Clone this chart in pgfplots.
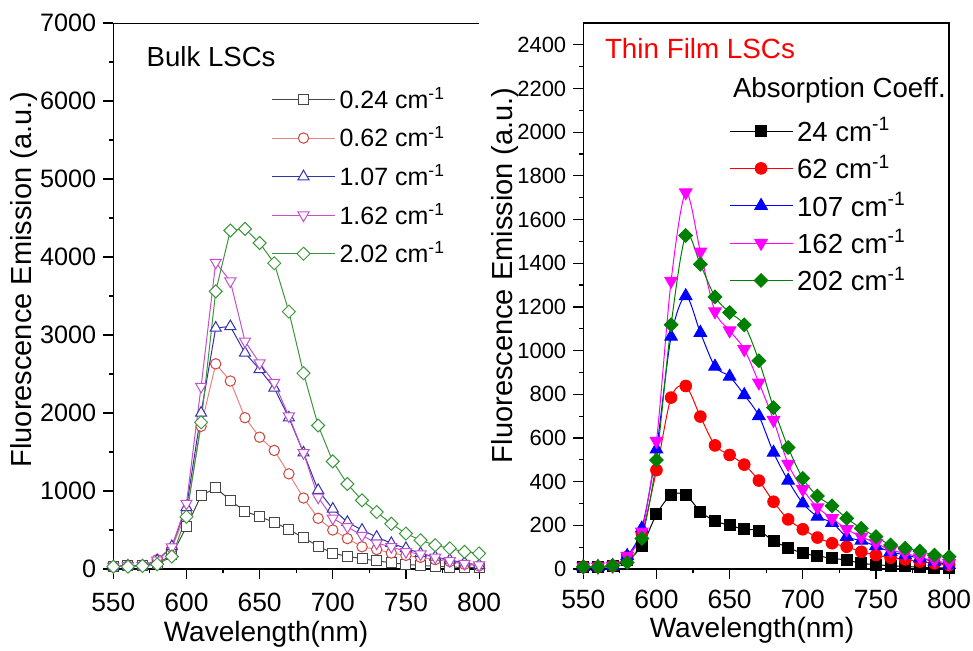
\documentclass[border=0pt]{standalone}
\usepackage{pgfplots}
\pgfplotsset{compat=1.18}
\usepackage{pgfplotstable}
\usepackage{fontspec}
\setmainfont{Liberation Sans}
\setsansfont{Liberation Sans}

\definecolor{lgray}{RGB}{70,70,70}
\definecolor{lred}{RGB}{205,70,60}
\definecolor{lredline}{RGB}{235,130,130}
\definecolor{lblue}{RGB}{50,50,170}
\definecolor{lmag}{RGB}{195,80,205}
\definecolor{lgreen}{RGB}{60,150,60}
\definecolor{rgreen}{RGB}{0,128,0}
\definecolor{rred}{RGB}{255,0,0}
\definecolor{rblue}{RGB}{0,0,255}
\definecolor{rmag}{RGB}{255,0,255}

\pgfplotstableread{
w a b c d e
550 30 30 30 30 30
560 50 40 40 40 30
570 40 40 40 40 40
580 70 120 110 110 60
590 180 270 290 280 160
600 540 720 790 840 670
610 940 1830 2000 2340 1880
620 1040 2630 3090 3930 3560
630 880 2410 3110 3690 4340
640 740 1940 2770 2920 4360
650 670 1690 2560 2640 4180
660 600 1520 2320 2390 3920
670 505 1220 1940 1960 3300
680 400 910 1490 1490 2510
690 295 650 1010 920 1840
700 200 500 770 650 1380
710 165 390 600 540 1090
720 130 285 500 430 880
730 105 250 410 330 730
740 80 205 330 285 580
750 60 175 265 220 455
760 45 150 200 190 370
770 35 120 155 150 305
780 25 95 115 105 265
790 20 60 80 70 220
800 15 40 50 50 200
}\bulk

\pgfplotstableread{
w a b c d e
550 10 10 10 10 10
560 10 10 10 10 10
570 15 15 15 15 15
580 40 55 60 60 30
590 105 163 186 171 140
600 250 453 548 586 499
610 339 785 1064 1319 1118
620 339 838 1250 1724 1527
630 263 698 1082 1453 1395
640 220 566 927 1179 1246
650 200 522 881 1092 1174
660 182 478 797 1006 1118
670 176 405 701 853 954
680 128 308 533 682 739
690 98 227 405 481 556
700 72 182 301 365 415
710 60 144 240 282 334
720 49 118 212 232 289
730 41 102 148 182 232
740 26 79 130 148 186
750 20 64 105 118 148
760 15 52 79 87 110
770 12 44 64 72 95
780 8 34 49 53 82
790 5 26 34 38 64
800 5 18 18 26 56
}\thin

\pgfplotsset{
  common/.style={
    scale only axis,
    width=182.9pt, height=273pt,
    xmin=550, xmax=800,
    xtick={550,600,...,800},
    minor x tick num=1,
    minor y tick num=1,
    tick align=outside,
    major tick length=5pt, minor tick length=2.2pt,
    tick style={line width=0.6pt, black},
    axis line style={line width=0.75pt},
    /pgf/number format/assume math mode=true,
    /pgf/number format/1000 sep={},
    legend cell align=left,
    legend image code/.code={\draw[mark repeat=2,mark phase=2] plot coordinates {(0pt,0pt) (15.75pt,0pt) (31.5pt,0pt)};},
  },
}

\begin{document}
\begin{tikzpicture}
\useasboundingbox (0,0) rectangle (486.5pt,325pt);
\begin{axis}[common,
  at={(56.65pt,40.5pt)}, anchor=south west,
  ymin=0, ymax=7000, ytick={0,1000,...,7000},
  axis x line*=bottom, axis y line*=left,
  axis line style={-},
  xticklabel style={font=\fontsize{13.2}{15}\selectfont, yshift=-3.5pt},
  yticklabel style={font=\fontsize{12.6}{15}\selectfont},
  xlabel={Wavelength(nm)},
  ylabel={Fluorescence Emission (a.u.)},
  every axis x label/.style={at={(axis description cs:0.4175,-0.12)},anchor=center,font=\fontsize{14}{16}\selectfont},
  every axis y label/.style={at={(axis description cs:-0.2445,0.53)},rotate=90,anchor=center,font=\fontsize{14.5}{16}\selectfont},
  legend style={draw=none, fill=none, at={(axis description cs:0.415,0.897)}, anchor=north west,
    font=\fontsize{12.5}{14}\selectfont, row sep=3.4pt},
  every axis plot/.append style={line width=0.5pt},
]
\addplot[color=lgray, mark=square*, mark size=2.5pt, mark options={fill=white, line width=0.5pt}] table[x=w,y=a]{\bulk};
\addlegendentry{0.24 cm\textsuperscript{-1}}
\addplot[color=lredline, mark=*, mark size=2.6pt, mark options={draw=lred, fill=white, line width=0.5pt}] table[x=w,y=b]{\bulk};
\addlegendentry{0.62 cm\textsuperscript{-1}}
\addplot[color=lblue, mark=triangle*, mark size=3.2pt, mark options={fill=white, line width=0.5pt}] table[x=w,y=c]{\bulk};
\addlegendentry{1.07 cm\textsuperscript{-1}}
\addplot[color=lmag, mark=triangle*, mark size=3.2pt, mark options={fill=white, rotate=180, line width=0.5pt}] table[x=w,y=d]{\bulk};
\addlegendentry{1.62 cm\textsuperscript{-1}}
\addplot[color=lgreen, mark=square*, mark size=2.3pt, mark options={fill=white, rotate=45, line width=0.5pt}] table[x=w,y=e]{\bulk};
\addlegendentry{2.02 cm\textsuperscript{-1}}
\draw[line width=0.75pt] (rel axis cs:0,1) -- (rel axis cs:1,1);
\node[anchor=west, font=\fontsize{13.8}{16}\selectfont] at (axis description cs:0.072,0.938) {Bulk LSCs};
\end{axis}

\begin{axis}[common,
  at={(291.65pt,40.5pt)}, anchor=south west,
  ymin=0, ymax=2500, ytick={0,200,...,2400},
  xtick pos=left, ytick pos=left,
  xticklabel style={font=\fontsize{13.2}{15}\selectfont, yshift=-2pt},
  yticklabel style={font=\fontsize{11}{13}\selectfont},
  xlabel={Wavelength(nm)},
  ylabel={Fluorescence Emission (a.u.)},
  every axis x label/.style={at={(axis description cs:0.461,-0.113)},anchor=center,font=\fontsize{14}{16}\selectfont},
  every axis y label/.style={at={(axis description cs:-0.214,0.538)},rotate=90,anchor=center,font=\fontsize{14.5}{16}\selectfont},
  legend style={draw=none, fill=none, at={(axis description cs:0.381,0.842)}, anchor=north west,
    font=\fontsize{13.8}{15}\selectfont, row sep=1.3pt},
  every axis plot/.append style={line width=0.5pt},
]
\addplot[color=black, smooth, mark=square*, mark size=2.75pt, mark options={fill=black}] table[x=w,y=a]{\thin};
\addlegendentry{24 cm\textsuperscript{-1}}
\addplot[color=rred, smooth, mark=*, mark size=2.9pt, mark options={fill=rred}] table[x=w,y=b]{\thin};
\addlegendentry{62 cm\textsuperscript{-1}}
\addplot[color=rblue, smooth, mark=triangle*, mark size=3.6pt, mark options={fill=rblue}] table[x=w,y=c]{\thin};
\addlegendentry{107 cm\textsuperscript{-1}}
\addplot[color=rmag, smooth, mark=triangle*, mark size=3.6pt, mark options={fill=rmag, rotate=180}] table[x=w,y=d]{\thin};
\addlegendentry{162 cm\textsuperscript{-1}}
\addplot[color=rgreen, smooth, mark=square*, mark size=2.4pt, mark options={fill=rgreen, rotate=45}] table[x=w,y=e]{\thin};
\addlegendentry{202 cm\textsuperscript{-1}}
\node[anchor=west, font=\fontsize{13.9}{16}\selectfont, text=rred] at (axis description cs:0.04,0.954) {Thin Film LSCs};
\node[anchor=west, font=\fontsize{13.8}{16}\selectfont] at (axis description cs:0.39,0.877) {Absorption Coeff.};
\end{axis}
\end{tikzpicture}
\end{document}
